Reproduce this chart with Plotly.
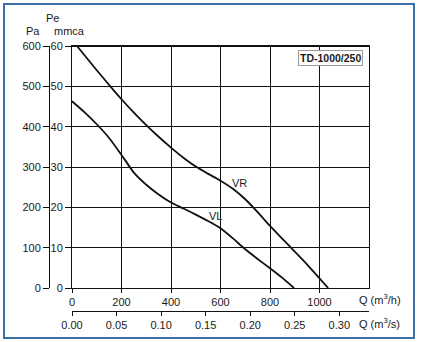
import plotly.graph_objects as go

# Fan curve TD-1000/250: static pressure (mmca) against airflow (m3/h)
vr_q = [20, 100, 166, 200, 250, 300, 350, 400, 450, 500, 550, 600, 650, 700, 750, 800, 850, 900, 950, 1000, 1035]
vr_p = [60, 54.0, 49.2, 46.8, 43.5, 40.4, 37.5, 34.8, 32.3, 30.1, 28.3, 26.6, 24.6, 22.0, 18.8, 15.4, 12.2, 9.0, 5.8, 2.4, 0]

vl_q = [0, 50, 100, 150, 200, 250, 300, 350, 400, 450, 500, 550, 600, 650, 700, 750, 800, 850, 897]
vl_p = [46.3, 43.6, 40.6, 37.2, 33.0, 28.6, 25.6, 23.2, 21.2, 19.7, 18.2, 16.6, 14.8, 12.3, 9.6, 7.2, 4.9, 2.5, 0]

q_ticks_h = [0, 200, 400, 600, 800, 1000]
q_ticks_s = [0.00, 0.05, 0.10, 0.15, 0.20, 0.25, 0.30]
pa_ticks = [0, 100, 200, 300, 400, 500, 600]
mm_ticks = [0, 10, 20, 30, 40, 50, 60]

W, H = 421, 342
FONT = "Liberation Sans, Arial, sans-serif"
TXT = "#1a1a1a"

def px(x):
    return x / W

def py(y):
    return 1 - y / H

fig = go.Figure()
for q, p in ((vr_q, vr_p), (vl_q, vl_p)):
    fig.add_trace(go.Scatter(x=q, y=p, mode="lines",
                             line=dict(color="#111", width=1.8, shape="spline", smoothing=0.5),
                             hoverinfo="skip", showlegend=False))

# same curve in SI units, keeps the secondary axes (m3/s, Pa) attached
fig.add_trace(go.Scatter(x=[q / 3600 for q in vr_q], y=[p * 10 for p in vr_p],
                         xaxis="x2", yaxis="y2", mode="lines",
                         line=dict(color="rgba(0,0,0,0)", width=0),
                         hoverinfo="skip", showlegend=False))

xdom = [px(72), px(369)]
ydom = [py(288), py(46)]

fig.update_layout(
    width=W, height=H,
    margin=dict(l=0, r=0, t=0, b=0, autoexpand=False),
    paper_bgcolor="white", plot_bgcolor="white",
    font=dict(family=FONT, size=11, color=TXT),
    showlegend=False,
    xaxis=dict(domain=xdom, range=[0, 1200], tickvals=q_ticks_h, automargin=False,
               showgrid=True, gridcolor="#111", gridwidth=1,
               showline=True, linecolor="#111", linewidth=1, mirror=True,
               ticks="outside", ticklen=4, tickcolor="#111",
               zeroline=False, fixedrange=True),
    yaxis=dict(domain=ydom, range=[0, 60], tickvals=mm_ticks, automargin=False,
               showgrid=True, gridcolor="#111", gridwidth=1,
               showline=True, linecolor="#111", linewidth=1, mirror=True,
               ticks="outside", ticklen=6, tickcolor="#111",
               zeroline=False, fixedrange=True),
    xaxis2=dict(overlaying="x", anchor="free", position=py(311), side="bottom",
                domain=xdom, range=[0, 1200 / 3600], tickvals=q_ticks_s, automargin=False,
                tickformat=".2f", showgrid=False, zeroline=False,
                showline=True, linecolor="#111", linewidth=1,
                ticks="outside", ticklen=4, tickcolor="#111", fixedrange=True),
    yaxis2=dict(overlaying="y", anchor="free", position=px(49), side="left",
                range=[0, 600], tickvals=pa_ticks, automargin=False,
                showgrid=False, zeroline=False,
                showline=True, linecolor="#111", linewidth=1,
                ticks="outside", ticklen=6, tickcolor="#111", fixedrange=True),
)

# heavier top edge of the plot frame
fig.add_shape(type="line", xref="x", yref="y", x0=0, x1=1200, y0=60, y1=60,
              line=dict(color="#111", width=2.2))

# outer frame
fig.add_shape(type="rect", xref="paper", yref="paper",
              x0=px(4), x1=px(414), y0=py(338), y1=py(4),
              line=dict(color="#3a6fa8", width=2))

def label(text, x, y, size=11, xanchor="center", **kw):
    fig.add_annotation(text=text, xref="paper", yref="paper", x=px(x), y=py(y),
                       xanchor=xanchor, yanchor="middle", showarrow=False,
                       font=dict(family=FONT, size=size, color=TXT), **kw)

label("Pe", 52, 18)
label("Pa", 33, 31)
label("mmca", 69, 31)
label("Q (m<sup>3</sup>/h)", 357, 299, xanchor="left")
label("Q (m<sup>3</sup>/s)", 357, 323, xanchor="left")

fig.add_annotation(text="<b>TD-1000/250</b>", xref="paper", yref="paper",
                   x=px(330.5), y=py(58), xanchor="center", yanchor="middle",
                   showarrow=False, font=dict(family=FONT, size=10.5, color=TXT),
                   bgcolor="white", bordercolor="#9a9a9a", borderwidth=1, borderpad=1)

fig.add_annotation(text="VR", x=677, y=26.0, xref="x", yref="y", showarrow=False,
                   font=dict(family=FONT, size=11, color=TXT))
fig.add_annotation(text="VL", x=578, y=17.9, xref="x", yref="y", showarrow=False,
                   font=dict(family=FONT, size=11, color=TXT))

fig.write_html("out.html")
